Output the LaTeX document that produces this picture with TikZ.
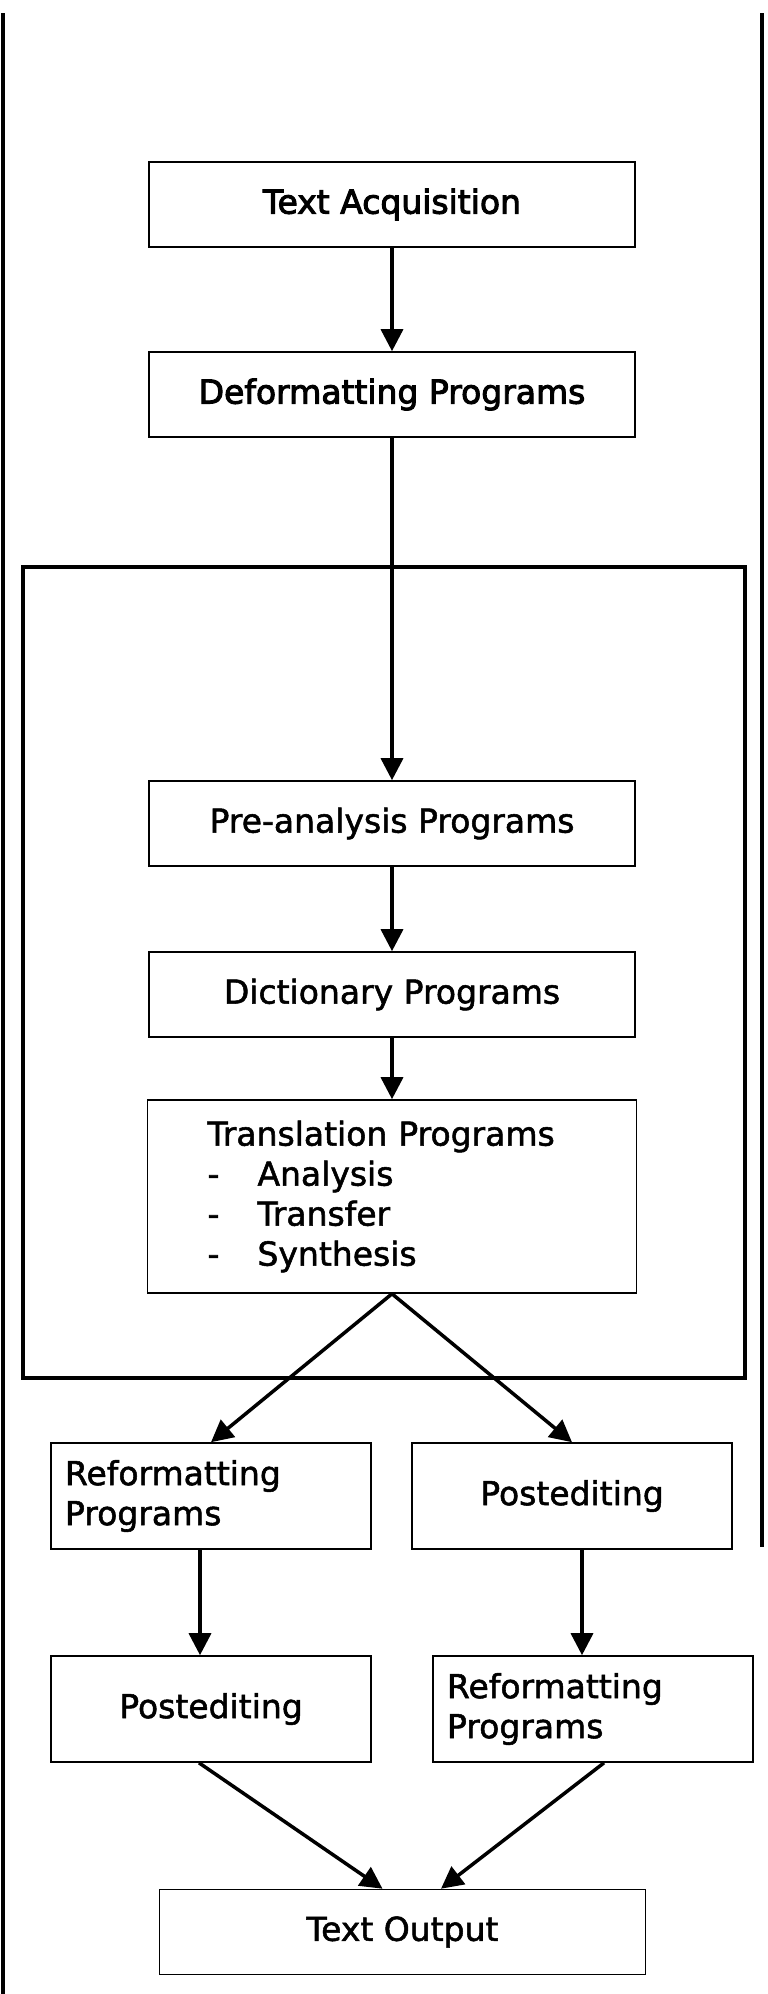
\documentclass[tikz,border=0pt]{standalone}
\usepackage{fontspec}
\setmainfont[FakeBold=1.6]{DejaVu Sans}
\newfontfamily\heavyfont[FakeBold=3]{DejaVu Sans}
\usetikzlibrary{positioning, arrows.meta}
\newcommand{\listdash}{\makebox[50pt][l]{-}}
\tikzset{
  procbox/.style = {shape=rectangle, draw, line width=1.6pt,
                    minimum width=486pt, minimum height=85pt,
                    align=center, inner sep=0pt},
  transbox/.style = {shape=rectangle, draw, line width=1.6pt,
                     text width=369pt, inner xsep=60pt, inner ysep=0pt,
                     minimum height=193pt, align=left},
  sidebox/.style = {shape=rectangle, draw, line width=1.6pt,
                    text width=292pt, inner xsep=14pt, inner ysep=0pt,
                    minimum height=106pt, align=left},
  arrow/.style = {line width=3.5pt, -{Triangle[length=22pt, width=22pt]}},
  groupframe/.style = {line width=3.3pt},
  borderline/.style = {line width=3.3pt},
  every node/.style = {font=\fontsize{33pt}{40pt}\selectfont}
}
\begin{document}
\begin{tikzpicture}[x=1pt, y=1pt, node distance=190pt]
            \useasboundingbox (0,0) rectangle (768,-1994);
            \node (acq) [procbox] at (392,-204.5) {\heavyfont Text Acquisition};
            \node (def) [procbox, below of=acq] {\heavyfont Deformatting Programs};
            \node (pre) [procbox, below of=def, yshift=-239pt] {Pre-analysis Programs};
            \node (dict) [procbox, below of=pre, yshift=19pt] {Dictionary Programs};
            \node (trans) [transbox, below of=dict, yshift=-12pt] {Translation Programs\\\listdash Analysis\\\listdash Transfer\\\listdash Synthesis};
            \node (reformL) [sidebox, below of=trans, xshift=-181pt, yshift=-109.5pt] {Reformatting\\Programs};
            \node (postR) [sidebox, align=center, right of=reformL, xshift=171pt] {Postediting};
            \node (postL) [sidebox, align=center, below of=reformL, yshift=-23pt] {Postediting};
            \node (reformR) [sidebox, below of=postR, xshift=21pt, yshift=-23pt] {Reformatting\\Programs};
            \node (out) [procbox, below of=postL, xshift=191.5pt, yshift=-33pt] {Text Output};

            \draw [groupframe] (23,-567) rectangle (745,-1378);
            \draw [borderline] (3,-13) -- (3,-1994);
            \draw [borderline] (762,-13) -- (762,-1547);

            \draw [arrow] (acq) -- (def);
            \draw [arrow] (def) -- (pre);
            \draw [arrow] (pre) -- (dict);
            \draw [arrow] (dict) -- (trans);
            \draw [arrow] (trans.south) -- (reformL.north);
            \draw [arrow] (trans.south) -- (postR.north);
            \draw [arrow] ([xshift=-11pt]reformL.south) -- ([xshift=-11pt]reformL.south |- postL.north);
            \draw [arrow] ([xshift=10pt]postR.south) -- ([xshift=10pt]postR.south |- reformR.north);
            \draw [arrow] ([xshift=-12pt]postL.south) -- ([xshift=-20pt]out.north);
            \draw [arrow] ([xshift=11pt]reformR.south) -- ([xshift=38.5pt]out.north);
        \end{tikzpicture}
\end{document}
